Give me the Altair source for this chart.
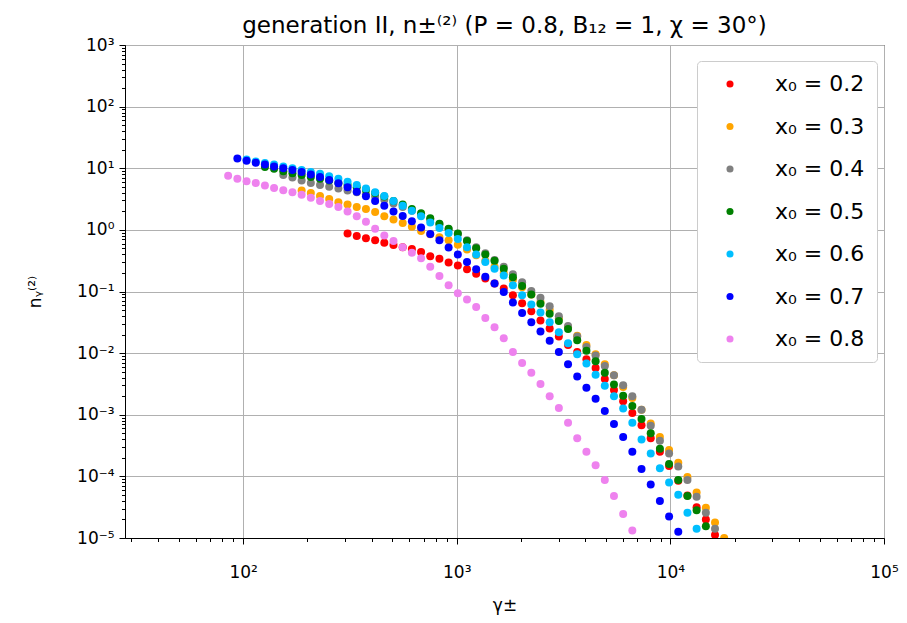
import altair as alt
import pandas as pd

GAMMA = [85.1, 94.0, 103.8, 114.6, 126.5, 139.6, 154.2, 170.2, 187.9, 207.5,
         229.1, 252.9, 279.3, 308.3, 340.4, 375.8, 415.0, 458.1, 505.8, 558.5,
         616.6, 680.8, 751.6, 829.8, 916.2, 1012, 1117, 1233, 1361, 1503,
         1660, 1832, 2023, 2234, 2466, 2723, 3006, 3319, 3664, 4046,
         4467, 4932, 5445, 6012, 6637, 7328, 8091, 8933, 9863, 10890,
         12020, 13270, 14660, 16180, 17860, 19720]

SERIES = ["x₀ = 0.2", "x₀ = 0.3", "x₀ = 0.4", "x₀ = 0.5", "x₀ = 0.6", "x₀ = 0.7", "x₀ = 0.8"]
COLORS = ["#ff0000", "#ffa500", "#808080", "#008000", "#00bfff", "#0000ff", "#ee82ee"]
START = [13, 8, 6, 4, 2, 1, 0]   # index into GAMMA of first point of each series

# log10 of n_gamma, one list per series
LOGN_02 = [-0.06, -0.10, -0.135, -0.17, -0.21, -0.245, -0.28, -0.31, -0.36, -0.43, -0.47, -0.53,
           -0.58, -0.64, -0.71, -0.79, -0.87, -0.95, -1.06, -1.19, -1.32, -1.47, -1.60, -1.73,
           -1.87, -1.98, -2.10, -2.24, -2.42, -2.60, -2.78, -2.97, -3.17, -3.38, -3.60, -3.83,
           -4.07, -4.31, -4.50, -4.70, -4.95, -5.2]
LOGN_03 = [0.64, 0.60, 0.55, 0.50, 0.45, 0.41, 0.37, 0.34, 0.29, 0.22, 0.17, 0.11, 0.05, -0.02,
           -0.07, -0.12, -0.17, -0.24, -0.32, -0.41, -0.50, -0.60, -0.70, -0.81, -0.93, -1.05,
           -1.17, -1.30, -1.44, -1.58, -1.72, -1.87, -2.02, -2.18, -2.36, -2.55, -2.73, -2.92,
           -3.14, -3.36, -3.57, -3.78, -4.01, -4.26, -4.51, -4.75, -5.0]
LOGN_04 = [0.89, 0.85, 0.80, 0.76, 0.73, 0.70, 0.67, 0.64, 0.61, 0.58, 0.54, 0.49, 0.43, 0.37,
           0.31, 0.24, 0.17, 0.09, 0.01, -0.07, -0.17, -0.28, -0.38, -0.49, -0.60, -0.72, -0.85,
           -0.99, -1.10, -1.24, -1.40, -1.56, -1.73, -1.90, -2.04, -2.21, -2.36, -2.52, -2.70,
           -2.92, -3.18, -3.42, -3.63, -3.84, -4.06, -4.33, -4.59, -4.85, -5.1]
LOGN_05 = [1.02, 0.99, 0.95, 0.92, 0.89, 0.86, 0.83, 0.80, 0.76, 0.73, 0.69, 0.65, 0.60, 0.54,
           0.47, 0.41, 0.34, 0.27, 0.19, 0.10, 0.02, -0.06, -0.18, -0.30, -0.40, -0.50, -0.63,
           -0.77, -0.91, -1.05, -1.20, -1.36, -1.48, -1.61, -1.79, -1.96, -2.13, -2.32, -2.51,
           -2.69, -2.86, -3.07, -3.30, -3.55, -3.80, -4.06, -4.32, -4.55, -4.81, -5.08]
LOGN_06 = [1.14, 1.11, 1.085, 1.06, 1.03, 1.00, 0.97, 0.94, 0.91, 0.87, 0.83, 0.78, 0.73, 0.67,
           0.61, 0.55, 0.47, 0.39, 0.31, 0.22, 0.12, 0.03, -0.05, -0.15, -0.28, -0.40, -0.52,
           -0.63, -0.74, -0.90, -1.06, -1.21, -1.34, -1.50, -1.66, -1.84, -2.02, -2.17, -2.35,
           -2.53, -2.70, -2.90, -3.13, -3.40, -3.63, -3.87, -4.10, -4.30, -4.59, -4.85, -5.12]
LOGN_07 = [1.16, 1.12, 1.09, 1.06, 1.03, 1.00, 0.97, 0.94, 0.90, 0.86, 0.81, 0.755, 0.69, 0.62,
           0.545, 0.47, 0.39, 0.30, 0.225, 0.14, 0.04, -0.065, -0.17, -0.285, -0.40, -0.52,
           -0.64, -0.76, -0.87, -1.01, -1.18, -1.35, -1.50, -1.65, -1.80, -1.98, -2.18, -2.38,
           -2.56, -2.74, -2.94, -3.15, -3.36, -3.60, -3.88, -4.13, -4.40, -4.65, -4.90, -5.15]
LOGN_08 = [0.88, 0.83, 0.79, 0.76, 0.72, 0.68, 0.645, 0.61, 0.57, 0.52, 0.47, 0.42, 0.37, 0.30,
           0.22, 0.13, 0.02, -0.09, -0.18, -0.28, -0.37, -0.46, -0.60, -0.75, -0.90, -1.03,
           -1.13, -1.25, -1.43, -1.58, -1.76, -1.98, -2.16, -2.32, -2.50, -2.70, -2.89, -3.13,
           -3.38, -3.60, -3.82, -4.06, -4.32, -4.61, -4.88, -5.15]
LOGN = [LOGN_02, LOGN_03, LOGN_04, LOGN_05, LOGN_06, LOGN_07, LOGN_08]

X_TICKS = [30, 40, 50, 60, 70, 80, 90, 100, 200, 300, 400, 500, 600, 700, 800, 900,
           1000, 2000, 3000, 4000, 5000, 6000, 7000, 8000, 9000, 10000,
           20000, 30000, 40000, 50000, 60000, 70000, 80000, 90000, 100000]
X_MAJOR = [100, 1000, 10000, 100000]
X_LABELS = ["10²", "10³", "10⁴", "10⁵"]

Y_MAJOR = [1e-5, 1e-4, 1e-3, 1e-2, 1e-1, 1, 10, 100, 1000]
Y_LABELS = ["10⁻⁵", "10⁻⁴", "10⁻³", "10⁻²", "10⁻¹", "10⁰", "10¹", "10²", "10³"]
Y_TICKS = []
for d in range(-5, 3):
    for m in range(1, 10):
        Y_TICKS.append(float(f"{m}e{d}"))
Y_TICKS.append(1000.0)

rows = []
for si, (name, start, vals) in enumerate(zip(SERIES, START, LOGN)):
    for i, v in enumerate(vals):
        rows.append({"series": name, "gamma": GAMMA[start + i], "n": 10 ** v, "z": si})
df = pd.DataFrame(rows)


def label_expr(values, labels):
    expr = "''"
    for v, l in zip(values[::-1], labels[::-1]):
        expr = f"datum.value == {v!r} ? '{l}' : ({expr})"
    return expr


def major_test(values):
    return "indexof([" + ",".join(repr(v) for v in values) + "], datum.value) >= 0"


FONT = "DejaVu Sans"

x_axis = alt.Axis(
    values=X_TICKS,
    labelExpr=label_expr(X_MAJOR, X_LABELS),
    labelOverlap=False, labelFlush=False, labelBound=False,
    labelFontSize=17, labelFont=FONT, labelColor="black", labelPadding=20,
    tickSize={"condition": {"test": major_test(X_MAJOR), "value": 6}, "value": 3.5},
    tickColor="black", tickWidth=1,
    gridOpacity={"condition": {"test": major_test(X_MAJOR), "value": 1}, "value": 0},
    gridColor="#b0b0b0", gridWidth=1,
    domainColor="black", domainWidth=1,
    title="γ±", titleFontSize=17, titleFont=FONT, titleFontWeight="normal",
    titleColor="black", titleY=67, titleBaseline="middle",
)
y_axis = alt.Axis(
    values=Y_TICKS,
    labelExpr=label_expr(Y_MAJOR, Y_LABELS),
    labelOverlap=False, labelFlush=False, labelBound=False,
    labelFontSize=17, labelFont=FONT, labelColor="black", labelPadding=5,
    tickSize={"condition": {"test": major_test(Y_MAJOR), "value": 6}, "value": 3.5},
    tickColor="black", tickWidth=1,
    gridOpacity={"condition": {"test": major_test(Y_MAJOR), "value": 1}, "value": 0},
    gridColor="#b0b0b0", gridWidth=1,
    domainColor="black", domainWidth=1,
    title="nᵧ⁽²⁾", titleFontSize=17, titleFont=FONT, titleFontWeight="normal",
    titleColor="black", titleX=-90, titleY=246.5, titleBaseline="middle",
)

chart = alt.Chart(df).mark_circle(size=64, opacity=1, clip=True).encode(
    x=alt.X("gamma:Q", scale=alt.Scale(type="log", domain=[28, 100000], nice=False), axis=x_axis),
    y=alt.Y("n:Q", scale=alt.Scale(type="log", domain=[1e-5, 1000], nice=False), axis=y_axis),
    color=alt.Color(
        "series:N",
        scale=alt.Scale(domain=SERIES, range=COLORS),
        legend=alt.Legend(
            title=None, orient="none", legendX=572, legendY=16,
            padding=12, strokeColor="#cccccc", fillColor="white", cornerRadius=4,
            labelFontSize=22, labelFont=FONT, labelColor="black",
            symbolType="circle", symbolSize=50, symbolOffset=10, labelOffset=34,
            rowPadding=20.5, symbolStrokeWidth=0,
        ),
    ),
    order=alt.Order("z:Q"),
).properties(
    width=759, height=493,
    title=alt.TitleParams(
        "generation II, n±⁽²⁾ (P = 0.8, B₁₂ = 1, χ = 30°)",
        fontSize=23, font=FONT, fontWeight="normal", color="black", offset=8,
        frame="group", dy=10,
    ),
    padding={"left": 117, "top": 37, "right": 15, "bottom": 85},
    autosize=alt.AutoSizeParams(type="none"),
).configure_view(stroke="black", strokeWidth=1)

chart.save("out.html", embed_options={"renderer": "svg", "actions": False})
